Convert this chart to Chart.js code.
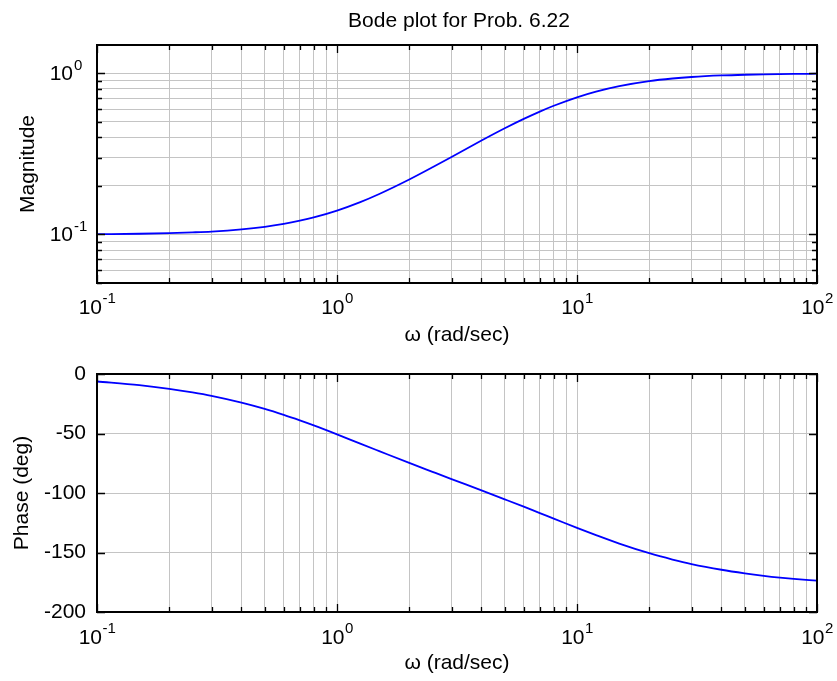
<!DOCTYPE html>
<html lang="en">
    <head>
        <meta charset="UTF-8">
        <title>Bode plot for Prob. 6.22</title>
        <style>
            body { margin: 0; background: #fff; }
            .painel { position: absolute; left: 0; }
            #painelMag { top: 0; }
            #painelFase { top: 350px; }
        </style>
    </head>

    <body>
        <div class="painel" id="painelMag">
            <canvas id="graficoMag" width="837" height="350"></canvas>
        </div>
        <div class="painel" id="painelFase">
            <canvas id="graficoFase" width="837" height="331"></canvas>
        </div>
    </body>
</html>

<script src="https://cdn.jsdelivr.net/npm/chart.js"></script>

<script>
    // frequencias (rad/sec)
    const frequencias = [0.1, 0.15, 0.2, 0.25, 0.3, 0.4, 0.5, 0.6, 0.7, 0.8, 1, 1.25, 1.5, 2, 2.5, 3, 4, 5, 6, 7, 8, 10, 12, 15, 20, 25, 30, 40, 50, 60, 70, 80, 100];
    const magnitude = [0.1005, 0.1011, 0.102, 0.1031, 0.1043, 0.1076, 0.1116, 0.1164, 0.1218, 0.1276, 0.1407, 0.1588, 0.1783, 0.2193, 0.2612, 0.3029, 0.3828, 0.4561, 0.5216, 0.5793, 0.6296, 0.7106, 0.7709, 0.8339, 0.8955, 0.9292, 0.9492, 0.9704, 0.9808, 0.9865, 0.9900, 0.9924, 0.9950];
    const fase = [-6.3, -9.4, -12.5, -15.5, -18.4, -24.1, -29.4, -34.4, -39, -43.2, -50.7, -58.5, -64.8, -74.7, -82.2, -88.3, -97.8, -105.3, -111.5, -116.9, -121.5, -129.3, -135.4, -142.5, -150.6, -155.9, -159.7, -164.5, -167.5, -169.6, -171.1, -172.2, -173.7];

    // ticks e grades
    const xDecadas = [0.1, 1, 10, 100];
    const xExpoentes = ['-1', '0', '1', '2'];
    const magDecadas = [0.1, 1];
    const magExpoentes = ['-1', '0'];
    const multiplicadores = [1, 2, 3, 4, 5, 6, 7, 8, 9];
    const faseTicks = [0, -50, -100, -150, -200];

    const fonte = "'Liberation Sans', Arial, sans-serif";
    const tamFonte = 21;
    const tamExpoente = 15;

    function gradeLog(min, max) {
        const valores = [];
        for (let d = -3; d <= 3; d++) {
            multiplicadores.forEach(m => {
                const v = +(m * Math.pow(10, d)).toPrecision(3);
                if (v >= min - 1e-9 && v <= max + 1e-9) valores.push(v);
            });
        }
        return valores;
    }

    function ehDecada(v) {
        const l = Math.log10(v);
        return Math.abs(l - Math.round(l)) < 1e-6;
    }

    // moldura preta com ticks para dentro (estilo matlab)
    const moldura = {
        id: 'moldura',
        afterDraw(chart) {
            const ctx = chart.ctx;
            const a = chart.chartArea;
            ctx.save();
            ctx.strokeStyle = '#000';
            ctx.lineWidth = 1.3;
            ctx.beginPath();
            chart.scales.x.ticks.forEach(t => {
                const px = Math.round(chart.scales.x.getPixelForValue(t.value)) + 0.5;
                const len = ehDecada(t.value) ? 8 : 5;
                ctx.moveTo(px, a.bottom); ctx.lineTo(px, a.bottom - len);
                ctx.moveTo(px, a.top); ctx.lineTo(px, a.top + len);
            });
            const ys = chart.scales.y;
            ys.ticks.forEach(t => {
                const py = Math.round(ys.getPixelForValue(t.value)) + 0.5;
                const len = (ys.type !== 'logarithmic' || ehDecada(t.value)) ? 8 : 5;
                ctx.moveTo(a.left, py); ctx.lineTo(a.left + len, py);
                ctx.moveTo(a.right, py); ctx.lineTo(a.right - len, py);
            });
            ctx.stroke();
            ctx.lineWidth = 2;
            ctx.strokeRect(a.left, a.top, a.right - a.left, a.bottom - a.top);
            ctx.restore();
        }
    };

    // titulo centrado na area do grafico
    const tituloCentrado = {
        id: 'tituloCentrado',
        afterDraw(chart) {
            const ctx = chart.ctx;
            const a = chart.chartArea;
            ctx.save();
            ctx.fillStyle = '#000';
            ctx.font = tamFonte + 'px ' + fonte;
            ctx.textAlign = 'center';
            ctx.textBaseline = 'middle';
            ctx.fillText('Bode plot for Prob. 6.22', (a.left + a.right) / 2 + 2, 21);
            ctx.restore();
        }
    };

    // rotulos 10^n com expoente
    function rotulosPotencia(opcoes) {
        return {
            id: 'rotulosPotencia',
            afterDraw(chart) {
                const ctx = chart.ctx;
                const a = chart.chartArea;
                ctx.save();
                ctx.fillStyle = '#000';
                ctx.textBaseline = 'middle';
                const xs = chart.scales.x;
                xDecadas.forEach((v, i) => {
                    const px = xs.getPixelForValue(v);
                    ctx.font = tamFonte + 'px ' + fonte;
                    const w1 = ctx.measureText('10').width;
                    ctx.font = tamExpoente + 'px ' + fonte;
                    const w2 = ctx.measureText(xExpoentes[i]).width;
                    const x0 = px - (w1 + w2) / 2;
                    const y0 = a.bottom + opcoes.xDesloc;
                    ctx.textAlign = 'left';
                    ctx.font = tamFonte + 'px ' + fonte;
                    ctx.fillText('10', x0, y0);
                    ctx.font = tamExpoente + 'px ' + fonte;
                    ctx.fillText(xExpoentes[i], x0 + w1 + 0.5, y0 - 9);
                });
                if (opcoes.yLog) {
                    const ys = chart.scales.y;
                    magDecadas.forEach((v, i) => {
                        const py = ys.getPixelForValue(v);
                        ctx.textAlign = 'right';
                        ctx.font = tamFonte + 'px ' + fonte;
                        ctx.fillText('10', 73, py + 1);
                        ctx.textAlign = 'left';
                        ctx.font = tamExpoente + 'px ' + fonte;
                        ctx.fillText(magExpoentes[i], 74, py - 8);
                    });
                }
                ctx.restore();
            }
        };
    }

    function pontos(ys) {
        return frequencias.map((f, i) => ({ x: f, y: ys[i] }));
    }

    const corGrade = '#c4c4c4';

    function eixoX(altura, padBaixo) {
        return {
            type: 'logarithmic',
            min: 0.1,
            max: 100,
            afterBuildTicks: (scale) => { scale.ticks = gradeLog(0.1, 100).map(v => ({ value: v })); },
            afterFit: (scale) => { scale.height = altura; },
            ticks: { display: false },
            grid: { color: corGrade, lineWidth: 1, drawTicks: false },
            border: { display: false },
            title: {
                display: true,
                text: 'ω (rad/sec)',
                color: '#000',
                font: { size: tamFonte, family: fonte },
                padding: { top: 0, bottom: padBaixo }
            }
        };
    }

    Chart.defaults.font.family = fonte;
    Chart.defaults.color = '#000';

    new Chart(document.getElementById('graficoMag').getContext('2d'), {
        type: 'line',
        data: {
            datasets: [{
                data: pontos(magnitude),
                borderColor: '#0000ff',
                borderWidth: 1.8,
                pointRadius: 0,
                cubicInterpolationMode: 'monotone'
            }]
        },
        options: {
            responsive: false,
            animation: false,
            layout: { padding: { left: 0, right: 20, top: 45, bottom: 0 } },
            plugins: {
                legend: { display: false },
                tooltip: { enabled: false }
            },
            scales: {
                x: eixoX(67, 2.4),
                y: {
                    type: 'logarithmic',
                    min: 0.05,
                    max: 1.5,
                    afterBuildTicks: (scale) => { scale.ticks = gradeLog(0.05, 1).map(v => ({ value: v })); },
                    afterFit: (scale) => { scale.width = 97; },
                    ticks: { display: false },
                    grid: { color: corGrade, lineWidth: 1, drawTicks: false },
                    border: { display: false },
                    title: {
                        display: true,
                        text: 'Magnitude',
                        color: '#000',
                        font: { size: tamFonte, family: fonte },
                        padding: { top: 15.4, bottom: 0 }
                    }
                }
            }
        },
        plugins: [moldura, tituloCentrado, rotulosPotencia({ xDesloc: 25, yLog: true })]
    });

    new Chart(document.getElementById('graficoFase').getContext('2d'), {
        type: 'line',
        data: {
            datasets: [{
                data: pontos(fase),
                borderColor: '#0000ff',
                borderWidth: 1.8,
                pointRadius: 0,
                cubicInterpolationMode: 'monotone'
            }]
        },
        options: {
            responsive: false,
            animation: false,
            layout: { padding: { left: 0, right: 20, top: 24, bottom: 0 } },
            plugins: {
                legend: { display: false },
                tooltip: { enabled: false }
            },
            scales: {
                x: eixoX(69, 5.4),
                y: {
                    type: 'linear',
                    min: -200,
                    max: 0,
                    afterBuildTicks: (scale) => { scale.ticks = faseTicks.map(v => ({ value: v })); },
                    afterFit: (scale) => { scale.width = 97; },
                    ticks: {
                        color: '#000',
                        padding: 11,
                        font: { size: tamFonte, family: fonte }
                    },
                    grid: { color: corGrade, lineWidth: 1, drawTicks: false },
                    border: { display: false },
                    title: {
                        display: true,
                        text: 'Phase (deg)',
                        color: '#000',
                        font: { size: tamFonte, family: fonte },
                        padding: { top: 9.4, bottom: 0 }
                    }
                }
            }
        },
        plugins: [moldura, rotulosPotencia({ xDesloc: 26, yLog: false })]
    });
</script>
